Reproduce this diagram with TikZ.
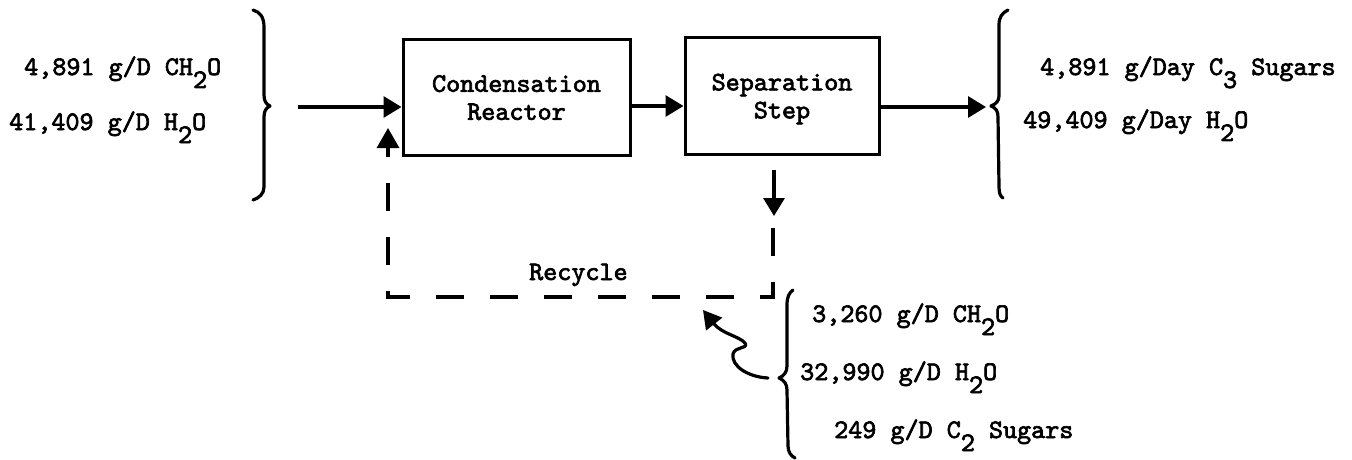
\documentclass[tikz,border=0pt]{standalone}
\usepackage{fontspec}
\newfontfamily\tw{lmmono10-regular.otf}[RawFeature={embolden=2.5}]
\usetikzlibrary{arrows.meta}
\newcommand\dn[1]{\raisebox{-13pt}{#1}}
\begin{document}
\begin{tikzpicture}[x=1pt,y=-1pt,
  font=\tw\fontsize{26.8}{28}\selectfont,
  box/.style={draw, line width=3pt, inner sep=0pt, align=center, text depth=0pt},
  arr/.style={-{Triangle[length=18pt,width=21pt]}, line width=3.2pt},
  lbl/.style={anchor=base west, inner sep=0pt},
  brace/.style={line width=3.2pt, line cap=round, line join=round},
  rec/.style={dash pattern=on 28pt off 26pt, line width=3.2pt}]
\useasboundingbox (0,0) rectangle (1352,460);
% boxes
\node[box, minimum width=227pt, minimum height=115pt] (cr) at (516.5,97.5) {Condensation\\Reactor};
\node[box, minimum width=194pt, minimum height=116pt] (sep) at (782,96) {Separation\\Step};
% left input labels
\node[lbl] (in1) at (24,75) {4,891 g/D CH\dn{2}O};
\node[lbl] (in2) at (9,130) {41,409 g/D H\dn{2}O};
% right output labels
\node[lbl] (out1) at (1040,75) {4,891 g/Day C\dn{3} Sugars};
\node[lbl] (out2) at (1023,128) {49,409 g/Day H\dn{2}O};
% lower labels
\node[lbl] (w1) at (812,322) {3,260 g/D CH\dn{2}O};
\node[lbl] (w2) at (800,380) {32,990 g/D H\dn{2}O};
\node[lbl] (w3) at (834,438) {249 g/D C\dn{2} Sugars};
\node[lbl] (rl) at (529,280) {Recycle};
% braces
\draw[brace] (253,10) .. controls (260,12) and (264,17) .. (264,27) -- (264,95)
  .. controls (264,101) and (266,104) .. (270,106)
  .. controls (266,108) and (264,111) .. (264,117) -- (264,187)
  .. controls (264,194) and (259,198) .. (253,200);
\draw[brace] (1008,10) .. controls (1002,13) and (999,17) .. (999,25) -- (999,96)
  .. controls (999,101) and (996,104) .. (991,106)
  .. controls (996,108) and (998,111) .. (998,117) -- (999,186)
  .. controls (999,193) and (1000,196) .. (1003,198);
\draw[brace] (793,290) .. controls (789,293) and (787,297) .. (787,305) -- (787,366)
  .. controls (787,372) and (784,376) .. (779,378)
  .. controls (784,380) and (787,384) .. (787,390) -- (788,446)
  .. controls (788,452) and (791,456) .. (795,458);
% flow arrows
\coordinate (src) at (298,107);
\draw[arr] (src) -- (src -| cr.west);
\coordinate (mid) at (650,106);
\draw[arr] (cr.east |- mid) -- (sep.west |- mid);
\coordinate (oend) at (986,107);
\draw[arr] (sep.east |- oend) -- (oend);
% recycle loop
\coordinate (dtop) at (774,170);
\coordinate (dbot) at (774,216);
\draw[arr] (dtop) -- (dbot);
\coordinate (r1) at (773,228);
\coordinate (r2) at (388,297);
\coordinate (r3) at (388,128);
\draw[rec, -{Triangle[length=20pt,width=22pt]}] (r1) |- (r2) -- (r3);
% curled arrow from lower stream into recycle
\coordinate (cstart) at (768,378);
\coordinate (cend) at (703,310);
\draw[brace, -{Triangle[length=18pt,width=20pt]}] (cstart)
  .. controls (748,377) and (731,366) .. (733,354)
  .. controls (735,346) and (749,349) .. (745,343)
  .. controls (739,336) and (722,334) .. (cend);
\end{tikzpicture}
\end{document}
